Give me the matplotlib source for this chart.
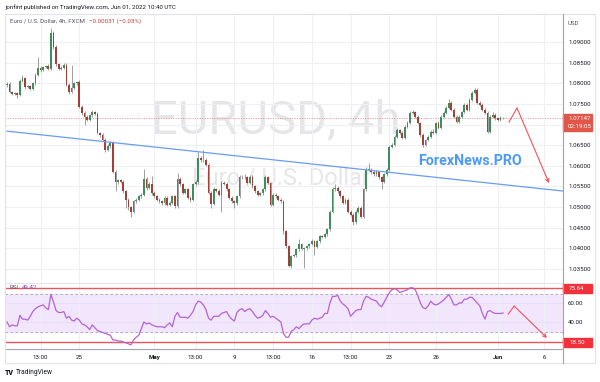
import matplotlib
matplotlib.use("Agg")
import matplotlib.pyplot as plt
import matplotlib.transforms as mtransforms
from matplotlib.patches import Rectangle
from matplotlib.lines import Line2D
import numpy as np

plt.rcParams["font.family"] = ["Roboto", "DejaVu Sans"]

# --- data (EURUSD 4h, FXCM) ---
first_open = 1.0795
closes = [
    1.0799, 1.0779, 1.0775, 1.0777, 1.0772, 1.0805, 1.0813, 1.0791, 1.0793, 1.0786,
    1.0800, 1.0820, 1.0838, 1.0832, 1.0840, 1.0842, 1.0835, 1.0922, 1.0888, 1.0846,
    1.0835, 1.0838, 1.0845, 1.0796, 1.0779, 1.0789, 1.0800, 1.0803, 1.0743, 1.0728,
    1.0719, 1.0712, 1.0722, 1.0731, 1.0726, 1.0680, 1.0675, 1.0663, 1.0639, 1.0648,
    1.0656, 1.0586, 1.0562, 1.0565, 1.0562, 1.0538, 1.0518, 1.0500, 1.0489, 1.0514,
    1.0518, 1.0526, 1.0530, 1.0569, 1.0547, 1.0555, 1.0533, 1.0526, 1.0518, 1.0514,
    1.0511, 1.0523, 1.0506, 1.0511, 1.0526, 1.0502, 1.0569, 1.0555, 1.0535, 1.0543,
    1.0523, 1.0518, 1.0555, 1.0560, 1.0620, 1.0613, 1.0615, 1.0603, 1.0535, 1.0508,
    1.0543, 1.0540, 1.0530, 1.0559, 1.0557, 1.0543, 1.0523, 1.0514, 1.0509, 1.0526,
    1.0572, 1.0574, 1.0572, 1.0559, 1.0574, 1.0550, 1.0538, 1.0530, 1.0533, 1.0543,
    1.0572, 1.0559, 1.0506, 1.0530, 1.0526, 1.0518, 1.0514, 1.0441, 1.0405, 1.0357,
    1.0381, 1.0383, 1.0398, 1.0410, 1.0398, 1.0400, 1.0405, 1.0410, 1.0417, 1.0403,
    1.0417, 1.0429, 1.0427, 1.0434, 1.0446, 1.0489, 1.0543, 1.0547, 1.0538, 1.0526,
    1.0511, 1.0518, 1.0489, 1.0482, 1.0463, 1.0489, 1.0499, 1.0477, 1.0543, 1.0591,
    1.0591, 1.0584, 1.0579, 1.0584, 1.0572, 1.0562, 1.0579, 1.0591, 1.0646, 1.0651,
    1.0671, 1.0687, 1.0680, 1.0668, 1.0695, 1.0704, 1.0729, 1.0731, 1.0719, 1.0704,
    1.0675, 1.0651, 1.0663, 1.0671, 1.0683, 1.0680, 1.0704, 1.0692, 1.0719, 1.0729,
    1.0741, 1.0753, 1.0736, 1.0719, 1.0707, 1.0719, 1.0731, 1.0748, 1.0736, 1.0760,
    1.0777, 1.0784, 1.0753, 1.0748, 1.0736, 1.0729, 1.0683, 1.0719, 1.0724, 1.0716,
    1.0712, 1.0716, 1.07147,
]
# wick lengths beyond the body, in pips
upper_wick_pips = [
    3, 4, 2, 3, 2, 5, 6, 3, 2, 3,
    3, 6, 26, 4, 3, 3, 4, 12, 5, 4,
    3, 4, 4, 3, 5, 55, 4, 3, 4, 5,
    4, 5, 3, 4, 3, 4, 3, 4, 4, 5,
    4, 3, 5, 4, 3, 3, 4, 3, 3, 4,
    3, 4, 3, 24, 4, 5, 20, 5, 3, 4,
    3, 5, 3, 3, 4, 3, 14, 5, 4, 3,
    3, 4, 4, 5, 14, 4, 24, 3, 4, 3,
    5, 4, 3, 4, 5, 3, 4, 3, 3, 4,
    5, 4, 5, 3, 4, 4, 3, 4, 3, 4,
    6, 4, 3, 4, 3, 3, 4, 3, 3, 4,
    4, 3, 4, 12, 3, 4, 3, 4, 5, 3,
    4, 3, 4, 3, 4, 4, 5, 8, 4, 3,
    4, 3, 3, 4, 3, 4, 3, 3, 4, 6,
    17, 4, 3, 5, 4, 3, 4, 3, 5, 4,
    3, 4, 3, 4, 3, 4, 5, 4, 3, 3,
    3, 4, 3, 4, 3, 5, 3, 4, 4, 3,
    4, 8, 3, 4, 3, 4, 3, 4, 3, 4,
    4, 5, 4, 3, 4, 3, 4, 5, 6, 4,
    3, 4, 2,
]
lower_wick_pips = [
    4, 3, 4, 3, 8, 3, 3, 4, 3, 3,
    3, 3, 3, 4, 3, 3, 3, 3, 4, 3,
    4, 3, 3, 3, 6, 3, 4, 3, 4, 6,
    19, 4, 3, 3, 4, 3, 4, 3, 5, 3,
    4, 3, 24, 5, 4, 3, 20, 6, 14, 4,
    5, 4, 3, 4, 5, 3, 4, 5, 3, 4,
    6, 5, 4, 3, 4, 3, 3, 4, 3, 4,
    3, 5, 4, 3, 3, 4, 3, 4, 3, 9,
    3, 4, 3, 43, 3, 4, 3, 3, 10, 4,
    3, 4, 3, 4, 3, 4, 3, 4, 3, 4,
    3, 3, 4, 3, 4, 3, 4, 5, 4, 3,
    4, 3, 3, 4, 3, 46, 3, 4, 3, 18,
    3, 4, 3, 3, 3, 4, 3, 4, 3, 4,
    3, 4, 3, 3, 7, 4, 3, 4, 3, 3,
    3, 4, 3, 3, 4, 19, 3, 3, 3, 4,
    3, 4, 4, 3, 3, 4, 3, 4, 3, 3,
    4, 5, 3, 4, 3, 4, 3, 4, 3, 4,
    3, 4, 3, 4, 4, 3, 4, 3, 3, 4,
    3, 4, 4, 3, 4, 3, 4, 3, 4, 5,
    4, 3, 2,
]
rsi_values = [
    40, 35, 37, 36, 36, 47, 43, 43, 42, 46,
    51, 54, 56, 57, 58, 55, 53, 69, 61, 52,
    50, 50, 51, 44, 46, 42, 41, 44, 42, 38,
    37, 35, 32, 37, 34, 31, 30, 29, 28, 27,
    26, 21, 21, 20, 20, 19, 18, 17, 16, 21,
    24, 26, 33, 40, 38, 39, 37, 36, 35, 35,
    35, 34, 37, 39, 35, 46, 50, 45, 45, 45,
    44, 47, 51, 58, 62, 61, 58, 53, 44, 42,
    46, 46, 46, 49, 50, 51, 46, 43, 41, 50,
    53, 54, 51, 53, 54, 51, 47, 44, 45, 47,
    52, 49, 45, 46, 44, 42, 40, 28, 24, 24,
    30, 32, 35, 33, 36, 38, 38, 38, 42, 44,
    43, 44, 45, 49, 49, 60, 67, 67, 68, 62,
    59, 57, 54, 46, 49, 52, 53, 53, 62, 67,
    66, 64, 63, 62, 58, 56, 61, 66, 71, 74,
    75, 74, 71, 72, 73, 74, 76, 76, 74, 68,
    60, 55, 54, 57, 62, 59, 58, 59, 61, 63,
    66, 69, 64, 58, 58, 60, 60, 64, 64, 66,
    66, 63, 60, 57, 49, 43, 51, 52, 50, 49,
    49, 49, 49.42,
]
price_ticks = [1.035, 1.040, 1.045, 1.050, 1.055, 1.060, 1.065, 1.070, 1.075, 1.080, 1.085, 1.090]
price_tick_labels = ["1.03500", "1.04000", "1.04500", "1.05000", "1.05500", "1.06000",
                     "1.06500", "", "1.07500", "1.08000", "1.08500", "1.09000"]
rsi_ticks = [40, 60]
time_tick_bars = [13, 28, 57, 73, 88, 103, 118, 133, 148, 166, 190, 208]
time_tick_labels = ["13:00", "25", "May", "13:00", "9", "13:00", "16", "13:00", "23", "26", "Jun", "6"]
last_price = 1.07147
countdown = "02:19:05"
rsi_last = 49.42
rsi_hlines = [75.64, 18.50]
trend_bars = [0, 215]
trend_prices = [1.0684, 1.0539]
arrow_price_bars = [194.3, 197.4, 209.8]
arrow_price_vals = [1.0706, 1.0740, 1.0558]
arrow_rsi_bars = [194.0, 196.3, 209.0]
arrow_rsi_vals = [48.4, 56.8, 23.2]

UP = "#408d5c"
DOWN = "#a33f35"
GRID = "#eef0f4"
TEXT = "#131722"
RED = "#f0525a"
FS = 4.4
W, H = 600, 382


def fr(x, y, w, h):
    return [x / W, 1 - (y + h) / H, w / W, h / H]


fig = plt.figure(figsize=(6, 3.82), dpi=100)
fig.patch.set_facecolor("white")

ax = fig.add_axes(fr(5, 14, 558, 269))
ax_rsi = fig.add_axes(fr(5, 284, 558, 65), sharex=ax)

closes_a = np.array(closes)
opens_a = np.concatenate([[first_open], closes_a[:-1]])
top = np.maximum(opens_a, closes_a)
bot = np.minimum(opens_a, closes_a)
highs = top + np.array(upper_wick_pips) * 0.0001
lows = bot - np.array(lower_wick_pips) * 0.0001
idx = np.arange(len(closes))
colors = np.where(closes_a >= opens_a, UP, DOWN)

ax.set_xlim(-0.77, 215.2)
ax.set_ylim(1.03161, 1.09678)

# watermark
ax.text(0.486, 0.605, "EURUSD, 4h", transform=ax.transAxes, ha="center", va="center",
        fontsize=34, color="#e6e6e8", zorder=0)
ax.text(0.494, 0.39, "Euro / U.S. Dollar", transform=ax.transAxes, ha="center", va="center",
        fontsize=17, color="#e6e6e8", zorder=0)

for t in price_ticks:
    ax.axhline(t, color=GRID, lw=0.8, zorder=0.5)
for b in time_tick_bars:
    ax.axvline(b, color=GRID, lw=0.8, zorder=0.5)
    ax_rsi.axvline(b, color=GRID, lw=0.8, zorder=0.5)

ax.vlines(idx, lows, highs, color="#8f8f8f", lw=0.6, zorder=2)
ax.bar(idx, np.maximum(top - bot, 0.00004), bottom=bot, width=0.7, color=colors, zorder=3)

# trend line
ax.plot(trend_bars, trend_prices, color="#6a9cf2", lw=0.9, zorder=4)

# last price dotted line
ax.axhline(last_price, color="#f28b8b", lw=0.7, ls=(0, (1, 1.5)), zorder=1)

# projected path arrow
ax.plot(arrow_price_bars[:2], arrow_price_vals[:2], color=RED, lw=0.8, zorder=5)
ax.annotate("", xy=(arrow_price_bars[2], arrow_price_vals[2]),
            xytext=(arrow_price_bars[1], arrow_price_vals[1]),
            arrowprops=dict(arrowstyle="->", color=RED, lw=0.8, shrinkA=0, shrinkB=0,
                            mutation_scale=6), zorder=5)

ax.text(0.833, 0.455, "ForexNews.PRO", transform=ax.transAxes, ha="center", va="center",
        fontsize=10.3, fontweight="bold", color="#4d9bf7", zorder=6)

# legend line
fig.text(10 / W, 1 - 21 / H, "Euro / U.S. Dollar, 4h, FXCM", fontsize=FS, color="#50535e",
         va="center", ha="left")
fig.text(89 / W, 1 - 21 / H, "\u22120.00031 (\u22120.03%)", fontsize=FS, color="#c2403a",
         va="center", ha="left")

# price scale
ax.yaxis.tick_right()
ax.set_yticks(price_ticks)
ax.set_yticklabels(price_tick_labels)
ax.tick_params(axis="y", length=0, pad=3.6, labelsize=FS, labelcolor=TEXT)
ax.tick_params(axis="x", length=0, labelbottom=False)
for s in ax.spines.values():
    s.set_visible(False)
ax.spines["bottom"].set_visible(True)
ax.spines["bottom"].set_color("#e0e3eb")
ax.spines["bottom"].set_linewidth(0.8)

bt = mtransforms.blended_transform_factory(ax.transAxes, ax.transData)
ppx = (1.09678 - 1.03161) / 269
ax.add_patch(Rectangle((1.0, last_price - 12.5 * ppx), 29 / 558, 17 * ppx, transform=bt,
                       color="#e0574a", clip_on=False, zorder=6))
ax.text(1 + 5 / 558, last_price, f"{last_price:.5f}", transform=bt, fontsize=FS,
        color="white", va="center", ha="left", zorder=7)
ax.text(1 + 5 / 558, last_price - 8 * ppx, countdown, transform=bt, fontsize=FS,
        color="white", va="center", ha="left", zorder=7)
ax.text(1 + 5 / 558, 0.965, "USD", transform=ax.transAxes, fontsize=FS, color="#50535e",
        va="center", ha="left")

# RSI pane
ax_rsi.set_ylim(11.58, 80)
ax_rsi.axhspan(30, 70, color="#f2e6fc", zorder=0)
for t in rsi_ticks:
    ax_rsi.axhline(t, color="#e9def5", lw=0.6, zorder=0.6)
for lvl in (70, 30):
    ax_rsi.axhline(lvl, color="#a3a6af", lw=0.6, ls=(0, (3, 3)), zorder=1)
for lvl in rsi_hlines:
    ax_rsi.axhline(lvl, color=RED, lw=1.0, zorder=2)
ax_rsi.plot(idx, rsi_values, color="#b463d3", lw=0.9, zorder=3)

ax_rsi.plot(arrow_rsi_bars[:2], arrow_rsi_vals[:2], color=RED, lw=0.8, zorder=5)
ax_rsi.annotate("", xy=(arrow_rsi_bars[2], arrow_rsi_vals[2]),
                xytext=(arrow_rsi_bars[1], arrow_rsi_vals[1]),
                arrowprops=dict(arrowstyle="->", color=RED, lw=0.8, shrinkA=0, shrinkB=0,
                                mutation_scale=6), zorder=5)

ax_rsi.yaxis.tick_right()
ax_rsi.set_yticks(rsi_ticks)
ax_rsi.set_yticklabels([f"{t:.2f}" for t in rsi_ticks])
ax_rsi.tick_params(axis="y", length=0, pad=3.6, labelsize=FS, labelcolor=TEXT)
ax_rsi.set_xticks(time_tick_bars)
ax_rsi.set_xticklabels(time_tick_labels)
ax_rsi.tick_params(axis="x", length=0, pad=4.0, labelsize=FS, labelcolor=TEXT)
for lab in ax_rsi.get_xticklabels():
    if lab.get_text() in ("May", "Jun"):
        lab.set_fontweight("bold")
for s in ax_rsi.spines.values():
    s.set_visible(False)
ax_rsi.spines["bottom"].set_visible(True)
ax_rsi.spines["bottom"].set_color("#a0a3ab")
ax_rsi.spines["bottom"].set_linewidth(0.8)

bt2 = mtransforms.blended_transform_factory(ax_rsi.transAxes, ax_rsi.transData)
rpx = (80 - 11.58) / 65
for lvl in rsi_hlines:
    ax_rsi.add_patch(Rectangle((1.0, lvl - 4.5 * rpx), 29 / 558, 9 * rpx, transform=bt2,
                               color="#f2303a", clip_on=False, zorder=6))
    ax_rsi.text(1 + 6 / 558, lvl, f"{lvl:.2f}", transform=bt2, fontsize=FS, color="white",
                va="center", ha="left", zorder=7)

ax_rsi.text(4 / 558, 76, "RSI", fontsize=FS, color="#50535e", va="center", ha="left",
            transform=bt2)
ax_rsi.text(17 / 558, 76, f"{rsi_last:.2f}", fontsize=FS, color="#8e4fa8", va="center",
            ha="left", transform=bt2)

# frame and scale separators
fig.patches.append(Rectangle((5 / W, 1 - 363 / H), 590 / W, 349 / H, transform=fig.transFigure,
                             fill=False, edgecolor="#e0e3eb", lw=0.8))
fig.lines.append(Line2D([563 / W, 563 / W], [1 - 14 / H, 1 - 363 / H], transform=fig.transFigure,
                        color="#a0a3ab", lw=0.8))

fig.text(5 / W, 1 - 7 / H, "jonfint published on TradingView.com, Jun 01, 2022 10:40 UTC",
         fontsize=4.4, color=TEXT, va="center", ha="left")
fig.text(5 / W, 1 - 373 / H, "TV", fontsize=5, fontweight="heavy", color=TEXT,
         va="center", ha="left")
fig.text(16 / W, 1 - 373 / H, "TradingView", fontsize=4.8, color=TEXT, va="center", ha="left")

fig.savefig("out.png", dpi=100)
